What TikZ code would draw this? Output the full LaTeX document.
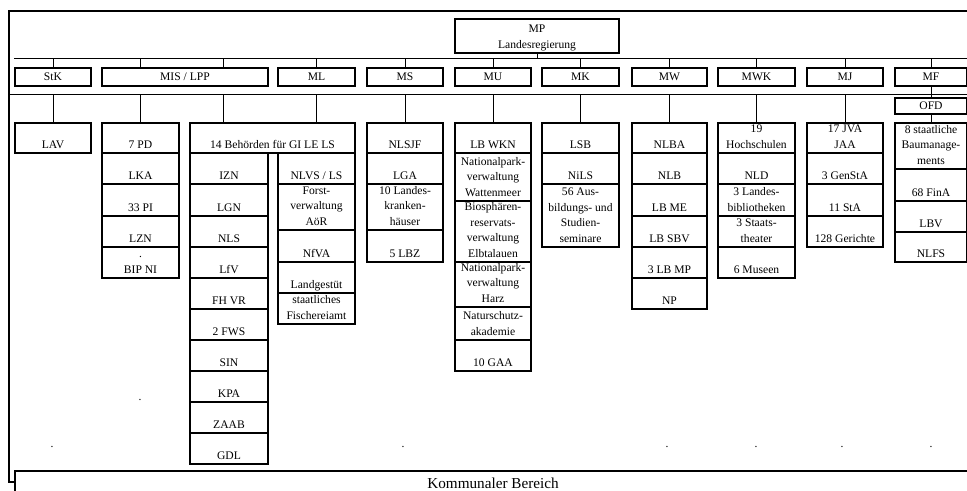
\documentclass[tikz,border=0pt]{standalone}
\usepackage{fontspec}
\setmainfont{Liberation Serif}
\newcommand\fsz{\fontsize{8.7}{11.6}\selectfont}
\newcommand\fbig{\fontsize{11.4}{13}\selectfont}
\tikzset{
  box/.style={draw, line width=1.5pt, inner sep=0pt, outer sep=0pt, align=center, font=\fsz},
  txt/.style={inner sep=0pt, outer sep=0pt, align=center, font=\fsz},
  conn/.style={line width=0.6pt},
  dotmark/.style={inner sep=0pt, font=\fsz},
}
% box with text sitting at its bottom
\newcommand\mybox[6]{\node[box, minimum width={(#4-#2)*0.75pt}, minimum height={(#5-#3)*0.75pt}] (#1) at ({(#2+#4)/2},{(#3+#5)/2}) {};
  \node[txt, anchor=south] (#1t) at (#1.south) {#6\strut};}
% box with centred single line
\newcommand\cbox[6]{\node[box, minimum width={(#4-#2)*0.75pt}, minimum height={(#5-#3)*0.75pt}] (#1) at ({(#2+#4)/2},{(#3+#5)/2}) {#6};}
\begin{document}
\begin{tikzpicture}[x=0.75pt,y=-0.75pt]
\clip (0,0) rectangle (967,490);
% frame and bus lines
\draw[line width=0.8pt] (967,11) -- (9,11) -- (9,482) -- (15,482);
\draw[line width=1.2pt] (9,313) -- (9,340);
\coordinate (busA) at (14,58);
\coordinate (busB) at (9,94);
\coordinate (busAend) at (967,58);
\coordinate (busBend) at (967,94);
\draw[conn] (busA) -- (busAend);
\draw[conn] (busB) -- (busBend);
% top
\mybox{mp}{455}{19}{619}{53}{MP\\Landesregierung}
% ministries
\cbox{stk}{15}{68}{91}{86}{StK}
\cbox{mis}{102}{68}{268}{86}{MIS / LPP}
\cbox{ml}{278}{68}{355}{86}{ML}
\cbox{ms}{367}{68}{443}{86}{MS}
\cbox{mu}{455}{68}{531}{86}{MU}
\cbox{mk}{542}{68}{619}{86}{MK}
\cbox{mw}{632}{68}{707}{86}{MW}
\cbox{mwk}{718}{68}{795}{86}{MWK}
\cbox{mj}{807}{68}{883}{86}{MJ}
\cbox{mf}{895}{68}{967}{86}{MF}
\mybox{ofd}{895}{98}{967}{114}{OFD}
% StK
\mybox{lav}{15}{123}{91}{153}{LAV}
% MIS column 1
\mybox{pd}{102}{123}{179}{153}{7 PD}
\mybox{lka}{102}{153}{179}{184}{LKA}
\mybox{pi}{102}{184}{179}{216}{33 PI}
\mybox{lzn}{102}{216}{179}{247}{LZN}
\mybox{bip}{102}{247}{179}{278}{.\\BIP NI}
% 14 Behoerden
\mybox{beh}{190}{123}{355}{153}{14 Behörden für GI LE LS}
\mybox{izn}{190}{153}{268}{184}{IZN}
\mybox{lgn}{190}{184}{268}{216}{LGN}
\mybox{nls}{190}{216}{268}{247}{NLS}
\mybox{lfv}{190}{247}{268}{278}{LfV}
\mybox{fhvr}{190}{278}{268}{309}{FH VR}
\mybox{fws}{190}{309}{268}{340}{2 FWS}
\mybox{sin}{190}{340}{268}{371}{SIN}
\mybox{kpa}{190}{371}{268}{402}{KPA}
\mybox{zaab}{190}{402}{268}{433}{ZAAB}
\mybox{gdl}{190}{433}{268}{464}{GDL}
\mybox{nlvs}{278}{153}{355}{184}{NLVS / LS}
\mybox{forst}{278}{184}{355}{230}{Forst-\\verwaltung\\AöR}
\mybox{nfva}{278}{230}{355}{262}{NfVA}
\mybox{landg}{278}{262}{355}{293}{Landgestüt}
\mybox{fisch}{278}{293}{355}{324}{staatliches\\Fischereiamt}
% MS
\mybox{nlsjf}{367}{123}{443}{153}{NLSJF}
\mybox{lga}{367}{153}{443}{184}{LGA}
\mybox{lkh}{367}{184}{443}{230}{10 Landes-\\kranken-\\häuser}
\mybox{lbz}{367}{230}{443}{262}{5 LBZ}
% MU
\mybox{lbwkn}{455}{123}{531}{153}{LB WKN}
\mybox{npw}{455}{153}{531}{201}{Nationalpark-\\verwaltung\\Wattenmeer}
\mybox{bio}{455}{201}{531}{262}{Biosphären-\\reservats-\\verwaltung\\Elbtalauen}
\mybox{nph}{455}{262}{531}{307}{Nationalpark-\\verwaltung\\Harz}
\mybox{nsa}{455}{307}{531}{340}{Naturschutz-\\akademie}
\mybox{gaa}{455}{340}{531}{371}{10 GAA}
% MK
\mybox{lsb}{542}{123}{619}{153}{LSB}
\mybox{nils}{542}{153}{619}{184}{NiLS}
\mybox{sem}{542}{184}{619}{247}{56 Aus-\\bildungs- und\\Studien-\\seminare}
% MW
\mybox{nlba}{632}{123}{707}{153}{NLBA}
\mybox{nlb}{632}{153}{707}{184}{NLB}
\mybox{lbme}{632}{184}{707}{216}{LB ME}
\mybox{lbsbv}{632}{216}{707}{247}{LB SBV}
\mybox{lbmp}{632}{247}{707}{278}{3 LB MP}
\mybox{np}{632}{278}{707}{309}{NP}
% MWK
\mybox{hs}{718}{123}{795}{153}{19\\Hochschulen}
\mybox{nld}{718}{153}{795}{184}{NLD}
\mybox{lbib}{718}{184}{795}{216}{3 Landes-\\bibliotheken}
\mybox{sth}{718}{216}{795}{247}{3 Staats-\\theater}
\mybox{mus}{718}{247}{795}{278}{6 Museen}
% MJ
\mybox{jva}{807}{123}{883}{153}{17 JVA\\JAA}
\mybox{gensta}{807}{153}{883}{184}{3 GenStA}
\mybox{sta}{807}{184}{883}{216}{11 StA}
\mybox{ger}{807}{216}{883}{247}{128 Gerichte}
% MF
\mybox{bau}{895}{123}{967}{169}{8 staatliche\\Baumanage-\\ments}
\mybox{fina}{895}{169}{967}{201}{68 FinA}
\mybox{lbv}{895}{201}{967}{232}{LBV}
\mybox{nlfs}{895}{232}{967}{262}{NLFS}
% Kommunaler Bereich (box runs past the bottom and right edges)
\draw[line width=1.5pt] (15,496) -- (15,471) -- (975,471);
\node[txt, font=\fbig] (kb) at (493,483) {Kommunaler Bereich};
% connectors
\coordinate (misb) at (223,0);
\draw[conn] (mp.south) -- (mp.south |- busA);
\foreach \m in {stk,ml,ms,mu,mk,mw,mwk,mj}{
  \draw[conn] (\m.north) -- (\m.north |- busA);
}
\draw[conn] (mf.north) -- (mf.north |- busA);
\draw[conn] (pd.north |- mis.north) -- (pd.north |- busA);
\draw[conn] (misb |- mis.north) -- (misb |- busA);
\draw[conn] (lav.north) -- (lav.north |- busB);
\draw[conn] (pd.north) -- (pd.north |- busB);
\draw[conn] (misb |- beh.north) -- (misb |- busB);
\draw[conn] (ml.south |- beh.north) -- (ml.south |- busB);
\draw[conn] (nlsjf.north) -- (nlsjf.north |- busB);
\draw[conn] (lbwkn.north) -- (lbwkn.north |- busB);
\draw[conn] (lsb.north) -- (lsb.north |- busB);
\draw[conn] (nlba.north) -- (nlba.north |- busB);
\draw[conn] (hs.north) -- (hs.north |- busB);
\draw[conn] (jva.north) -- (jva.north |- busB);
\draw[conn] (mf.south) -- (ofd.north);
\draw[conn] (ofd.south) -- (bau.north);
% stray dots
\node[dotmark] (d1) at (140,400) {.};
\node[dotmark] (d2) at (52,447) {.};
\node[dotmark] (d3) at (403,447) {.};
\node[dotmark] (d4) at (667,447) {.};
\node[dotmark] (d5) at (756,447) {.};
\node[dotmark] (d6) at (842,447) {.};
\node[dotmark] (d7) at (931,447) {.};
\end{tikzpicture}
\end{document}
